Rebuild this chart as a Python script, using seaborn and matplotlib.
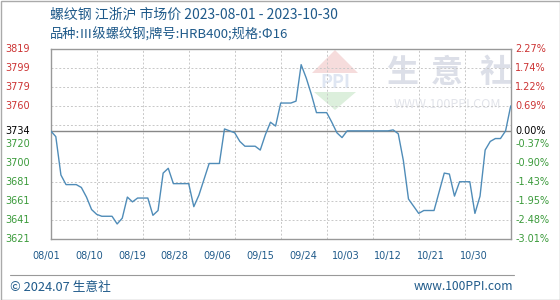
import numpy as np
import pandas as pd
import matplotlib
matplotlib.use("Agg")
import matplotlib.pyplot as plt
import seaborn as sns

# ---- data ----
dates = ["2023-08-01","2023-08-02","2023-08-03","2023-08-04","2023-08-06","2023-08-07",
         "2023-08-08","2023-08-09","2023-08-10","2023-08-11","2023-08-13","2023-08-14",
         "2023-08-15","2023-08-16","2023-08-17","2023-08-18","2023-08-20","2023-08-21",
         "2023-08-22","2023-08-23","2023-08-24","2023-08-25","2023-08-28","2023-08-29",
         "2023-08-30","2023-09-01","2023-09-03","2023-09-04","2023-09-06","2023-09-07",
         "2023-09-08","2023-09-10","2023-09-11","2023-09-12","2023-09-13","2023-09-14",
         "2023-09-15","2023-09-17","2023-09-18","2023-09-19","2023-09-20","2023-09-21",
         "2023-09-22","2023-09-24","2023-09-25","2023-09-26","2023-09-27","2023-09-28",
         "2023-10-06","2023-10-07","2023-10-08","2023-10-09","2023-10-10","2023-10-12",
         "2023-10-13","2023-10-15","2023-10-17","2023-10-18","2023-10-19","2023-10-20",
         "2023-10-22","2023-10-23","2023-10-24","2023-10-25","2023-10-26","2023-10-27",
         "2023-10-28","2023-10-29","2023-10-30"]
prices = [3734, 3728, 3688, 3678, 3678, 3675,
          3665, 3652, 3647, 3645, 3645, 3637,
          3643, 3665, 3660, 3664, 3664, 3646,
          3651, 3690, 3695, 3679, 3679, 3655,
          3667, 3700, 3700, 3736, 3732, 3723,
          3718, 3718, 3714, 3730, 3743, 3739,
          3763, 3763, 3765, 3803, 3789, 3772,
          3753, 3753, 3743, 3732, 3727, 3734,
          3734, 3735, 3731, 3703, 3663, 3648,
          3651, 3651, 3690, 3689, 3666, 3681,
          3681, 3648, 3666, 3714, 3723, 3726,
          3726, 3734, 3760]
base_price = 3734
y_min, y_max = 3621, 3819
left_labels = ["3819", "3799", "3779", "3760", "3734", "3720", "3700", "3681", "3661", "3641", "3621"]
right_labels = ["2.27%", "1.74%", "1.22%", "0.69%", "0.00%", "-0.37%", "-0.90%", "-1.43%", "-1.95%", "-2.48%", "-3.01%"]
x_labels = ["08/01", "08/10", "08/19", "08/28", "09/06", "09/15", "09/24", "10/03", "10/12", "10/21", "10/30"]
title1 = "螺纹钢 江浙沪 市场价 2023-08-01 - 2023-10-30"
title2 = "品种:Ⅲ级螺纹钢;牌号:HRB400;规格:Φ16"
footer_left = "© 2024.07 生意社"
footer_right = "www.100PPI.com"

sns.set_style("white")
plt.rcParams['font.family'] = ['Noto Sans CJK SC', 'DejaVu Sans']

df = pd.DataFrame({"date": pd.to_datetime(dates), "price": prices})
start = pd.Timestamp("2023-08-01")
df["day"] = (df["date"] - start).dt.days

fig = plt.figure(figsize=(5.6, 3.0), dpi=100)
ax = fig.add_axes([50.7/560, 1-239.3/300, 460/560, 190/300])

RED = "#cc3333"
GREEN = "#3a9a3a"
BLUE_TXT = "#1f5a8a"
LINE = "#4f8cb8"

def axpt(px, py):
    return ((px - 50.7) / 460, (239.3 - py) / 190)

# watermark
for ch, cx in zip("生意社", [402, 447, 496]):
    x, y = axpt(cx, 73)
    ax.text(x, y, ch, transform=ax.transAxes, fontsize=23, color="#dcdfe8",
            ha="center", va="center", fontweight="bold", zorder=0)
x, y = axpt(447, 105)
ax.text(x, y, "WWW.100PPI.COM", transform=ax.transAxes, fontsize=9, color="#e2e4ea",
        ha="center", va="center", zorder=0)
tri = [axpt(312, 73), axpt(335, 50), axpt(358, 73)]
ax.add_patch(plt.Polygon(tri, closed=True, transform=ax.transAxes, facecolor="#f6dcdc",
                         edgecolor="none", zorder=0))
tri2 = [axpt(314, 92), axpt(356, 92), axpt(335, 110)]
ax.add_patch(plt.Polygon(tri2, closed=True, transform=ax.transAxes, facecolor="#dcefdc",
                         edgecolor="none", zorder=0))
x, y = axpt(335, 82)
ax.text(x, y, "PPI", transform=ax.transAxes, fontsize=13, color="#dfe6f2",
        ha="center", va="center", fontweight="bold", zorder=0)

sns.lineplot(data=df, x="day", y="price", ax=ax, color=LINE, linewidth=1.0, zorder=3)

ax.set_xlim(0, 90)
ax.set_ylim(y_min, y_max)

# grid
for k in range(1, 10):
    ax.axvline(9 * k, color="#c8c8c8", linestyle=(0, (2, 2)), linewidth=0.7, zorder=1)
grid_vals = np.linspace(y_min, y_max, 11)
for i, v in enumerate(grid_vals[1:-1]):
    if i + 1 == 5:
        continue
    ax.axhline(v, color="#c8c8c8", linestyle=(0, (2, 2)), linewidth=0.7, zorder=1)
ax.axhline(base_price, color="#888888", linewidth=1.0, zorder=2)

for s in ax.spines.values():
    s.set_color("#999999")
    s.set_linewidth(1.0)

ax.set_xlabel("")
ax.set_ylabel("")
ax.set_xticks([])
ax.set_yticks([])

# y labels positions (descending)
ypos = list(grid_vals[::-1])
ypos[4] = base_price
for i, (v, ll, rl) in enumerate(zip(ypos, left_labels, right_labels)):
    c = RED if i < 4 else ("black" if i == 4 else GREEN)
    ax.text(-45.7/460, v, ll, transform=ax.get_yaxis_transform(), ha="left", va="center",
            fontsize=7, color=c, family="DejaVu Sans")
    ax.text(1 + 4.5/460, v, rl, transform=ax.get_yaxis_transform(), ha="left", va="center",
            fontsize=7, color=c, family="DejaVu Sans")

# x labels (offset from grid, as in the source)
for k, lab in enumerate(x_labels):
    xf = (46.7 - 50.7 + 42.7 * k) / 460
    ax.text(xf, -17/190, lab, transform=ax.transAxes, ha="center", va="center",
            fontsize=7, color=BLUE_TXT, family="DejaVu Sans")

# titles
fig.text(50/560, 1-15/300, title1, fontsize=10, color=BLUE_TXT, ha="left", va="center")
fig.text(50/560, 1-35/300, title2, fontsize=9.5, color=BLUE_TXT, ha="left", va="center")

# footer
fig.add_artist(plt.Line2D([10/560, 514/560], [1-275/300, 1-275/300], color="#999999", linewidth=0.8))
fig.text(10/560, 1-287/300, footer_left, fontsize=9.2, color=BLUE_TXT, ha="left", va="center")
fig.text(513/560, 1-287/300, footer_right, fontsize=8.7, color=BLUE_TXT, ha="right", va="center")

# outer frame
fig.add_artist(plt.Rectangle((0.5/560, 0.5/300), 1-1/560, 1-1/300, transform=fig.transFigure,
                             fill=False, edgecolor="#aaaaaa", linewidth=1.0))

fig.savefig("out.png", dpi=100)
